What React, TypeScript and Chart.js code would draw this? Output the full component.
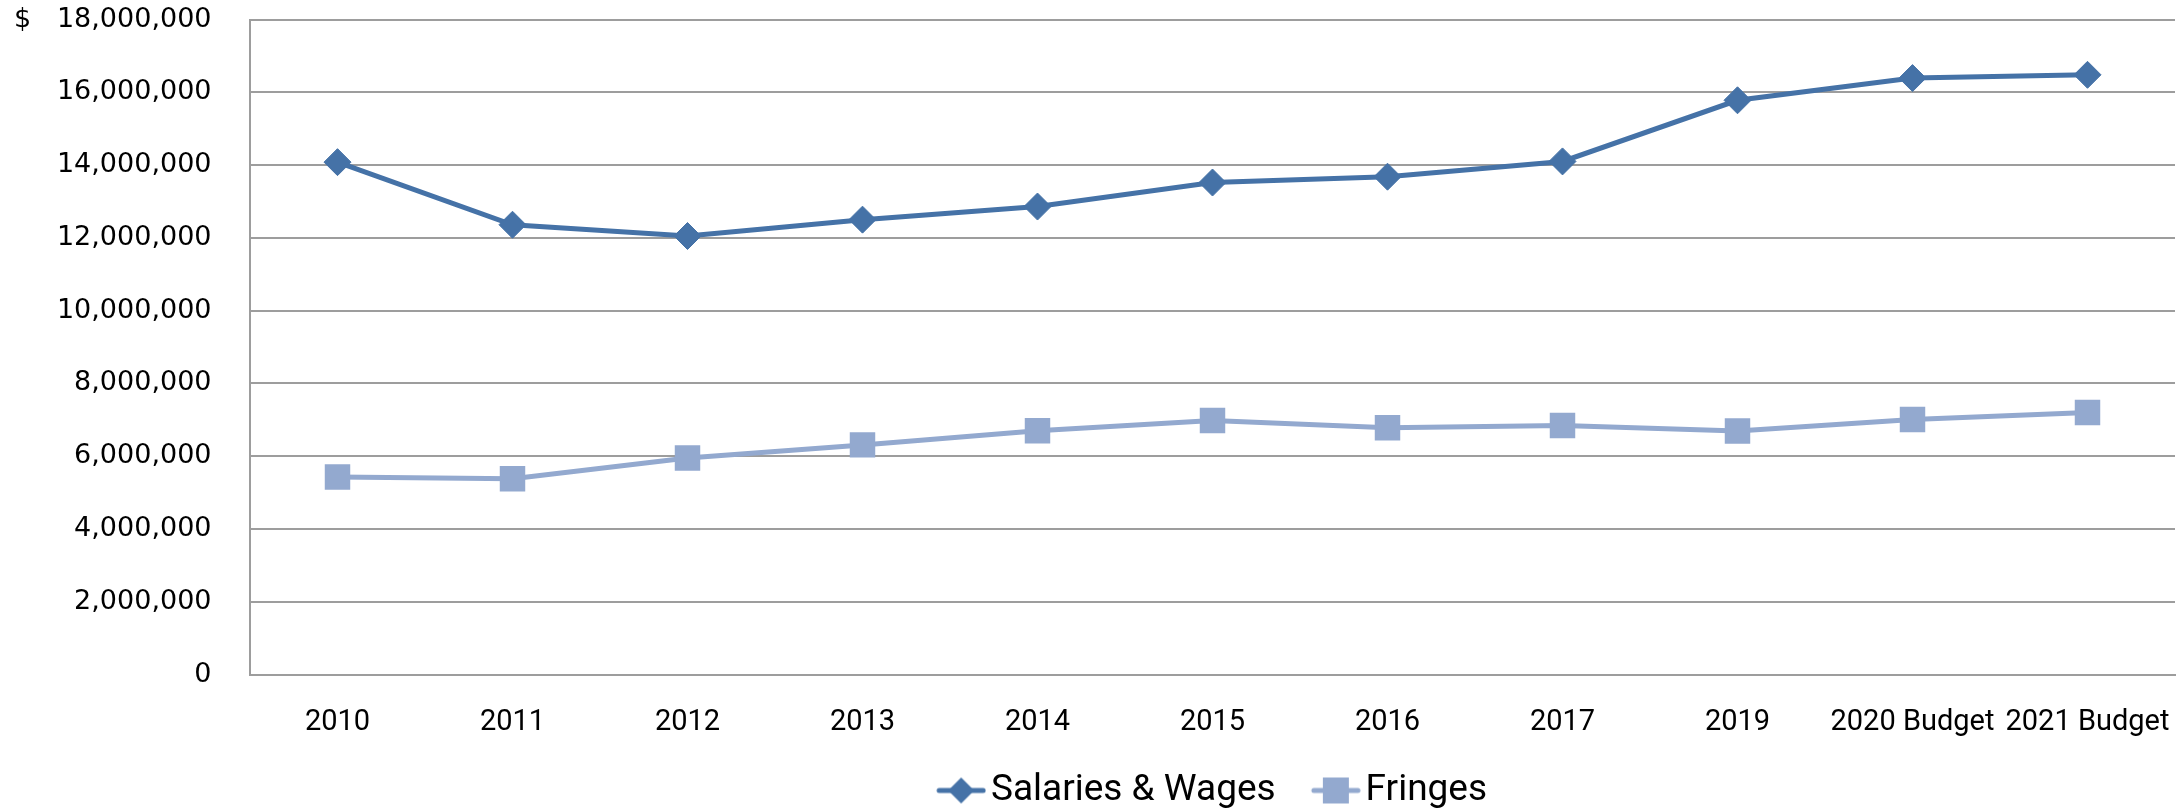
import React, { useEffect, useRef } from "react";
import { Chart, registerables } from "chart.js";

Chart.register(...registerables);

const categories = ["2010", "2011", "2012", "2013", "2014", "2015", "2016", "2017", "2019", "2020 Budget", "2021 Budget"];
const salariesWages = [14080000, 12360000, 12050000, 12500000, 12860000, 13520000, 13680000, 14100000, 15780000, 16390000, 16480000];
const fringes = [5430000, 5380000, 5950000, 6310000, 6700000, 6980000, 6780000, 6840000, 6690000, 7010000, 7200000];
const seriesNames = ["Salaries & Wages", "Fringes"];
const yMin = 0;
const yMax = 18000000;
const yStep = 2000000;
const currencyLabel = "$";

const SAL_COLOR = "#4572A7";
const FRI_COLOR = "#93A9CF";
const GRID = "#9d9d9d";

function makeLegendMarker(color: string, style: "diamond" | "square") {
  const W = 63, H = 32, L = 13;
  const c = document.createElement("canvas");
  c.width = W;
  c.height = H;
  const ctx = c.getContext("2d")!;
  ctx.strokeStyle = color;
  ctx.fillStyle = color;
  ctx.lineWidth = 5;
  ctx.lineCap = "round";
  ctx.beginPath();
  ctx.moveTo(L + 3, H / 2);
  ctx.lineTo(L + 47, H / 2);
  ctx.stroke();
  const cx = L + 25, cy = H / 2;
  ctx.beginPath();
  if (style === "diamond") {
    const r = 13;
    ctx.moveTo(cx, cy - r);
    ctx.lineTo(cx + r, cy);
    ctx.lineTo(cx, cy + r);
    ctx.lineTo(cx - r, cy);
    ctx.closePath();
  } else {
    const s = 13;
    ctx.rect(cx - s, cy - s, 2 * s, 2 * s);
  }
  ctx.fill();
  return c;
}

export default function App() {
  const ref = useRef<HTMLCanvasElement | null>(null);

  useEffect(() => {
    if (!ref.current) return;
    const markers = [makeLegendMarker(SAL_COLOR, "diamond"), makeLegendMarker(FRI_COLOR, "square")];

    const helperPlugin = {
      id: "helper",
      afterLayout(chart: any) {
        // center legend on the plot area, as in the reference
        if (chart.legend) {
          chart.legend.left = chart.chartArea.left - 1;
        }
      },
      afterDraw(chart: any) {
        const ctx = chart.ctx;
        const y = chart.scales.y.getPixelForValue(yMax);
        ctx.save();
        ctx.font = '27px "DejaVu Sans"';
        ctx.fillStyle = "#000";
        ctx.textAlign = "left";
        ctx.textBaseline = "middle";
        ctx.fillText(currencyLabel, 14, y);
        ctx.restore();
      },
    };

    const chart = new Chart(ref.current, {
      type: "line",
      data: {
        labels: categories,
        datasets: [
          {
            label: seriesNames[0],
            data: salariesWages,
            borderColor: SAL_COLOR,
            backgroundColor: SAL_COLOR,
            borderWidth: 5,
            pointStyle: "rectRot",
            pointRadius: 13.5,
            pointBorderWidth: 1,
            pointBackgroundColor: SAL_COLOR,
            pointBorderColor: SAL_COLOR,
            tension: 0,
          },
          {
            label: seriesNames[1],
            data: fringes,
            borderColor: FRI_COLOR,
            backgroundColor: FRI_COLOR,
            borderWidth: 5,
            pointStyle: "rect",
            pointRadius: 18,
            pointBorderWidth: 0,
            pointBackgroundColor: FRI_COLOR,
            pointBorderColor: FRI_COLOR,
            tension: 0,
          },
        ],
      },
      options: {
        responsive: false,
        maintainAspectRatio: false,
        devicePixelRatio: 1,
        animation: false,
        events: [],
        layout: { autoPadding: false, padding: { left: 0, right: 7, top: 19.5, bottom: 0 } },
        plugins: {
          title: { display: false },
          tooltip: { enabled: false },
          legend: {
            display: true,
            position: "bottom",
            labels: {
              usePointStyle: true,
              pointStyleWidth: 35.5,
              padding: 36,
              color: "#000",
              font: { family: "Roboto", size: 37 },
              generateLabels: (ch: any) => {
                const items = Chart.defaults.plugins.legend.labels.generateLabels(ch);
                items.forEach((it: any, i: number) => {
                  it.pointStyle = markers[i];
                });
                return items;
              },
            },
          },
        },
        scales: {
          x: {
            type: "category",
            offset: true,
            grid: { display: false, drawTicks: false },
            border: { display: true, color: GRID, width: 2 },
            ticks: {
              color: "#000",
              font: { family: "Roboto", size: 29 },
              padding: 31,
              maxRotation: 0,
              minRotation: 0,
              autoSkip: false,
            },
            afterFit: (s: any) => {
              s.height = 61.5;
              s.paddingLeft = 0;
              s.paddingRight = 0;
            },
          },
          y: {
            type: "linear",
            min: yMin,
            max: yMax,
            grid: { display: true, color: GRID, lineWidth: 2, drawTicks: false },
            border: { display: true, color: GRID, width: 2 },
            ticks: {
              stepSize: yStep,
              color: "#000",
              font: { family: "DejaVu Sans", size: 27 },
              padding: 38.5,
              callback: (v: any) => Number(v).toLocaleString("en-US"),
            },
            afterFit: (s: any) => {
              s.width = 250;
              s.paddingTop = 0;
              s.paddingBottom = 0;
            },
          },
        },
      },
      plugins: [helperPlugin],
    });
    return () => chart.destroy();
  }, []);

  return (
    <div style={{ position: "fixed", left: 0, top: 0, width: 2182, height: 811, overflow: "hidden", background: "#fff" }}>
      <canvas ref={ref} width={2182} height={819} style={{ display: "block", width: 2182, height: 819 }} />
    </div>
  );
}
